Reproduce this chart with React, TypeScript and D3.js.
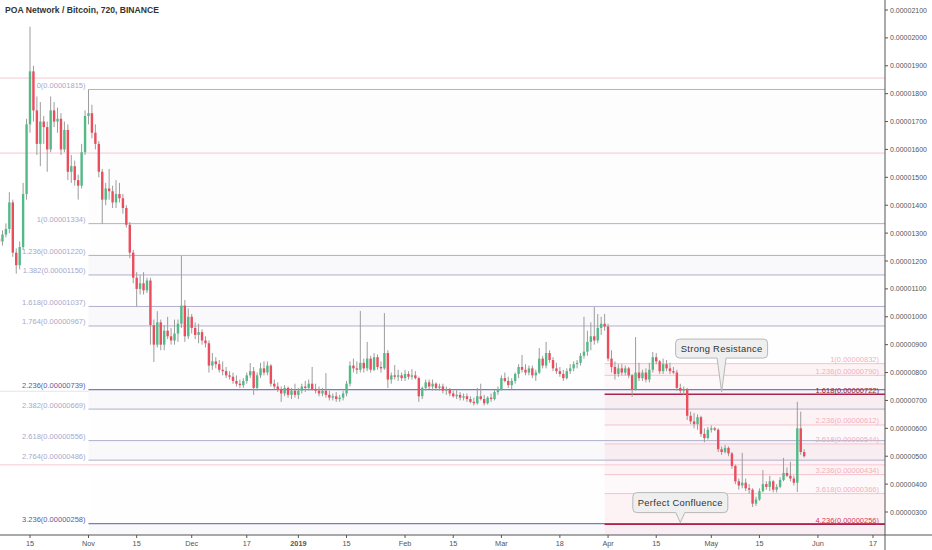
import React from "react";
import * as d3 from "d3";

const W = 932;
const H = 550;
const PLOT_RIGHT = 885;
const AXIS_Y = 535;

const title = "POA Network / Bitcoin, 720, BINANCE";
const startDate = new Date(2018, 9, 6);

// daily OHLC in units of 1e-8 BTC
const candles: [number, number, number, number][] = [
  [1280,1300,1260,1270],[1270,1310,1255,1295],[1295,1335,1285,1315],[1315,1447,1300,1410],[1410,1420,1215,1230],
  [1230,1245,1155,1185],[1185,1270,1170,1250],[1250,1480,1240,1440],[1440,1710,1420,1690],[1690,2040,1660,1880],
  [1880,1900,1700,1740],[1740,1790,1580,1620],[1620,1770,1540,1700],[1700,1720,1620,1680],[1680,1700,1520,1600],
  [1600,1790,1590,1740],[1740,1770,1680,1700],[1700,1750,1660,1710],[1710,1730,1580,1600],[1600,1700,1590,1670],
  [1670,1690,1490,1520],[1520,1580,1480,1540],[1540,1560,1470,1490],[1490,1510,1420,1470],[1470,1620,1460,1590],
  [1590,1740,1580,1720],[1720,1815,1690,1730],[1730,1760,1640,1660],[1660,1690,1600,1620],[1620,1630,1500,1520],
  [1520,1530,1334,1420],[1420,1480,1400,1460],[1460,1530,1420,1450],[1450,1470,1390,1410],[1410,1490,1390,1440],
  [1440,1480,1410,1425],[1425,1440,1370,1390],[1390,1400,1320,1330],[1330,1340,1210,1230],[1230,1240,1120,1140],
  [1140,1160,1037,1100],[1100,1150,1080,1120],[1120,1160,1080,1095],[1095,1140,1085,1130],[1130,1140,900,970],
  [970,990,838,900],[900,1020,890,980],[980,990,880,900],[900,970,880,950],[950,1000,920,930],
  [930,960,900,915],[915,990,900,940],[940,990,910,975],[975,1218,960,1040],[1040,1060,910,930],
  [930,1030,920,1000],[1000,1010,940,960],[960,980,920,935],[935,975,905,945],[945,955,900,915],
  [915,930,890,905],[905,915,800,825],[825,870,810,840],[840,855,815,830],[830,845,800,810],
  [810,840,790,805],[805,820,780,790],[790,805,775,785],[785,800,760,770],[770,790,750,760],
  [760,775,745,755],[755,780,745,770],[770,800,760,790],[790,834,780,805],[805,820,720,745],
  [745,800,735,790],[790,835,780,815],[815,840,790,800],[800,840,790,825],[825,830,750,760],
  [760,775,740,750],[750,765,730,740],[740,750,695,725],[725,755,715,745],[745,750,710,720],
  [720,745,705,735],[735,760,710,720],[720,745,705,735],[735,760,725,750],[750,770,730,745],
  [745,775,735,760],[760,820,735,740],[740,760,725,735],[735,750,715,725],[725,745,715,735],
  [735,798,710,720],[720,735,700,710],[710,725,700,715],[715,730,695,705],[705,720,695,710],
  [710,735,700,725],[725,770,715,760],[760,840,750,825],[825,850,800,815],[815,840,795,810],
  [810,1021,800,835],[835,850,800,815],[815,910,805,850],[850,860,800,810],[810,870,805,855],
  [855,865,810,820],[820,840,800,815],[815,1013,810,870],[870,880,745,775],[775,800,760,790],
  [790,827,775,785],[785,810,770,790],[790,800,770,780],[780,810,770,795],[795,805,775,785],
  [785,812,775,790],[790,805,775,780],[780,785,695,715],[715,750,705,745],[745,775,735,765],
  [765,775,740,750],[750,775,735,760],[760,765,735,745],[745,760,735,750],[750,760,725,735],
  [735,750,720,740],[740,745,715,725],[725,735,710,715],[715,740,705,720],[720,730,700,710],
  [710,725,700,715],[715,725,695,705],[705,715,690,695],[695,710,682,690],[690,745,685,715],
  [715,760,700,705],[705,720,682,690],[690,715,685,710],[710,725,695,705],[705,740,700,730],
  [730,750,720,740],[740,790,735,780],[780,800,765,770],[770,785,745,755],[755,780,740,770],
  [770,800,760,795],[795,830,780,820],[820,863,800,810],[810,830,790,800],[800,825,790,815],
  [815,825,780,790],[790,810,770,800],[800,888,795,850],[850,860,815,825],[825,910,815,870],
  [870,880,835,845],[845,855,805,815],[815,835,795,805],[805,820,785,795],[795,810,770,780],
  [780,815,775,805],[805,830,795,815],[815,840,805,830],[830,845,815,835],[835,870,825,860],
  [860,1000,850,875],[875,950,860,910],[910,980,880,930],[930,1035,900,915],[915,1010,905,960],
  [960,1000,935,975],[975,1010,950,965],[965,975,840,850],[850,880,800,820],[820,840,775,795],
  [795,830,785,815],[815,830,790,800],[800,825,790,815],[815,820,780,790],[790,795,713,740],
  [740,927,735,800],[800,835,770,780],[780,810,770,800],[800,815,765,775],[775,835,765,810],
  [810,874,800,855],[855,870,830,840],[840,845,795,805],[805,850,795,830],[830,845,805,815],
  [815,835,795,805],[805,820,795,800],[800,810,735,745],[745,760,725,735],[735,750,720,740],
  [740,745,630,645],[645,660,615,625],[625,655,600,615],[615,650,595,640],[640,645,570,580],
  [580,600,550,565],[565,605,560,595],[595,610,585,600],[600,605,590,595],[595,600,515,525],
  [525,535,505,515],[515,540,510,530],[530,535,500,510],[510,515,455,465],[465,470,400,410],
  [410,420,380,395],[395,512,385,405],[405,420,375,385],[385,400,365,380],[380,385,318,330],
  [330,355,322,345],[345,385,340,375],[375,450,370,400],[400,410,380,390],[390,430,375,410],
  [410,415,370,380],[380,400,370,390],[390,425,385,415],[415,494,410,440],[440,460,425,430],
  [430,480,410,420],[420,430,395,405],[405,695,372,600],[600,660,505,515],[515,525,495,500],
];

const priceTicks = [300,400,500,600,700,800,900,1000,1100,1200,1300,1400,1500,1600,1700,1800,1900,2000,2100];
const xTickDates = ["2018-10-15","2018-11-01","2018-11-15","2018-12-01","2018-12-17","2019-01-01","2019-01-15","2019-02-01","2019-02-15","2019-03-01","2019-03-18","2019-04-01","2019-04-15","2019-05-01","2019-05-15","2019-06-01","2019-06-17"];
const xTickLabels = ["15","Nov","15","Dec","17","2019","15","Feb","15","Mar","18","Apr","15","May","15","Jun","17"];

const leftFibRatios = ["0","1","1.236","1.382","1.618","1.764","2.236","2.382","2.618","2.764","3.236"];
const leftFibPrices = [1815,1334,1220,1150,1037,967,739,669,556,486,258];
const leftFibStart = "2018-11-01";
const leftFibStrong = ["2.236","3.236"];

const rightFibRatios = ["1","1.236","1.618","2.236","2.618","3.236","3.618","4.236"];
const rightFibPrices = [832,790,722,612,544,434,366,256];
const rightFibStart = "2019-03-31";
const rightFibStrong = ["1.618","4.236"];

const guideLinePrices = [1856,1587,469];

const annotationTexts = ["Strong Resistance","Perfect Confluence"];
const annotationTipDates = ["2019-05-04","2019-04-22"];
const annotationTipPrices = [730,262];

const parseDate = (s: string) => {
  const [y, m, d] = s.split("-").map(Number);
  return new Date(y, m - 1, d);
};

const FONT = "'Liberation Sans', Arial, sans-serif";

function calloutPath(cx: number, tipX: number, tipY: number, w: number, h: number, gap: number, r: number) {
  const x0 = cx - w / 2, x1 = cx + w / 2;
  const y1 = tipY - gap, y0 = y1 - h;
  const b0 = tipX - 4.5, b1 = tipX + 4.5;
  return `M${x0 + r},${y0} H${x1 - r} Q${x1},${y0} ${x1},${y0 + r} V${y1 - r} Q${x1},${y1} ${x1 - r},${y1} H${b1} L${tipX},${tipY} L${b0},${y1} H${x0 + r} Q${x0},${y1} ${x0},${y1 - r} V${y0 + r} Q${x0},${y0} ${x0 + r},${y0} Z`;
}

export default function App() {
  const x = d3.scaleTime().domain([new Date(2018, 9, 15), new Date(2019, 5, 17)]).range([30, 873]);
  const y = d3.scaleLinear().domain([300, 2100]).range([512, 10]);
  const fmt = (p: number) => (p / 1e8).toFixed(8);

  const lx0 = x(parseDate(leftFibStart));
  const rx0 = x(parseDate(rightFibStart));

  const bodyW = 2.4;

  return (
    <svg width={W} height={H} style={{ position: "absolute", left: 0, top: 0, background: "#fff" }} fontFamily={FONT}>
      <rect x={0} y={0} width={W} height={H} fill="#fff" />

      {/* left fib bands */}
      {leftFibPrices.slice(0, -1).map((p, k) => {
        const yt = y(p), yb = y(leftFibPrices[k + 1]);
        let op = 0.012;
        if (k === 0) op = 0.02;
        else if (k % 2 === 0) op = 0.05;
        return <rect key={"lb" + k} x={lx0} y={yt} width={PLOT_RIGHT - lx0} height={yb - yt} fill={k % 2 === 0 && k > 0 ? "#8a8aa8" : "#8080c8"} opacity={op} />;
      })}
      <rect x={lx0} y={y(leftFibPrices[leftFibPrices.length - 1])} width={PLOT_RIGHT - lx0} height={AXIS_Y - y(leftFibPrices[leftFibPrices.length - 1])} fill="#8080c8" opacity={0.05} />

      {/* right fib bands */}
      {rightFibPrices.slice(0, -1).map((p, k) => {
        const yt = y(p), yb = y(rightFibPrices[k + 1]);
        return <rect key={"rb" + k} x={rx0} y={yt} width={PLOT_RIGHT - rx0} height={yb - yt} fill="#f48fa8" opacity={k % 2 === 0 ? 0.1 : 0.055} />;
      })}
      <rect x={rx0} y={y(rightFibPrices[rightFibPrices.length - 1])} width={PLOT_RIGHT - rx0} height={AXIS_Y - y(rightFibPrices[rightFibPrices.length - 1])} fill="#f48fa8" opacity={0.1} />

      {/* guide lines */}
      {guideLinePrices.map((p, k) => (
        <line key={"g" + k} x1={0} x2={PLOT_RIGHT} y1={y(p)} y2={y(p)} stroke="#f6c9d1" strokeWidth={1} />
      ))}
      <line x1={0} x2={lx0} y1={y(733)} y2={y(733)} stroke="#e4e4ea" strokeWidth={1} />

      {/* left fib lines */}
      {leftFibPrices.map((p, k) => {
        const strong = leftFibStrong.includes(leftFibRatios[k]);
        return <line key={"ll" + k} x1={lx0} x2={PLOT_RIGHT} y1={y(p)} y2={y(p)} stroke={strong ? "#7a7ac2" : "#b0b0cc"} strokeWidth={strong ? 1.3 : 1} />;
      })}
      {/* right fib lines */}
      {rightFibPrices.map((p, k) => {
        const strong = rightFibStrong.includes(rightFibRatios[k]);
        return <line key={"rl" + k} x1={rx0} x2={PLOT_RIGHT} y1={y(p)} y2={y(p)} stroke={strong ? "#a8244a" : "#f5c3cc"} strokeWidth={strong ? 1.4 : 1} />;
      })}

      {/* candles */}
      {candles.map(([o, h, l, c], i) => {
        const d = new Date(startDate.getFullYear(), startDate.getMonth(), startDate.getDate() + i);
        const cx = x(d);
        const up = c >= o;
        const col = up ? "#53b987" : "#eb4d5c";
        const yTop = y(Math.max(o, c));
        const yBot = y(Math.min(o, c));
        return (
          <g key={"c" + i}>
            <line x1={cx} x2={cx} y1={y(h)} y2={y(l)} stroke="#9c9c9c" strokeWidth={1} />
            <rect x={cx - bodyW / 2} y={yTop} width={bodyW} height={Math.max(1, yBot - yTop)} fill={col} />
          </g>
        );
      })}

      {/* left fib labels */}
      {leftFibPrices.map((p, k) => {
        const strong = leftFibStrong.includes(leftFibRatios[k]);
        return (
          <text key={"lt" + k} x={lx0 - 3} y={y(p) - 1.5} textAnchor="end" fontSize={7.5} fill={strong ? "#5a5aa6" : "#a8a8cc"}>
            {`${leftFibRatios[k]}(${fmt(p)})`}
          </text>
        );
      })}
      {/* right fib labels */}
      {rightFibPrices.map((p, k) => {
        const r = rightFibRatios[k];
        const col = r === "1.618" ? "#8e1d3c" : r === "4.236" ? "#d63a55" : "#f2b0bd";
        return (
          <text key={"rt" + k} x={879} y={y(p) - 1.5} textAnchor="end" fontSize={7.5} fill={col}>
            {`${r}(${fmt(p)})`}
          </text>
        );
      })}

      {/* annotations */}
      {annotationTexts.map((t, k) => {
        const tx = x(parseDate(annotationTipDates[k]));
        const ty = y(annotationTipPrices[k]);
        const w = k === 0 ? 92 : 95;
        const h = k === 0 ? 19 : 20;
        const gap = k === 0 ? 34 : 10;
        const cx = tx;
        const yc = ty - gap - h / 2;
        return (
          <g key={"a" + k}>
            <path d={calloutPath(cx, tx, ty, w, h, gap, 4)} fill="#efefef" stroke="#b8b8b8" strokeWidth={1} />
            <text x={cx} y={yc} textAnchor="middle" dominantBaseline="central" fontSize={9.4} fill="#333" letterSpacing={0.3}>{t}</text>
          </g>
        );
      })}

      {/* axes */}
      <line x1={0} x2={W} y1={AXIS_Y} y2={AXIS_Y} stroke="#555" strokeWidth={1} />
      <line x1={PLOT_RIGHT} x2={PLOT_RIGHT} y1={0} y2={H} stroke="#555" strokeWidth={1} />
      {priceTicks.map((p) => (
        <g key={"yt" + p}>
          <line x1={PLOT_RIGHT} x2={PLOT_RIGHT + 3} y1={y(p)} y2={y(p)} stroke="#555" />
          <text x={PLOT_RIGHT + 5} y={y(p)} dominantBaseline="central" fontSize={7} fill="#555">{fmt(p)}</text>
        </g>
      ))}
      {xTickDates.map((s, k) => {
        const xx = x(parseDate(s));
        return (
          <g key={"xt" + k}>
            <line x1={xx} x2={xx} y1={AXIS_Y} y2={AXIS_Y + 3} stroke="#555" />
            <text x={xx} y={546} textAnchor="middle" fontSize={7.3} fill="#555" fontWeight={xTickLabels[k] === "2019" ? 700 : 400}>{xTickLabels[k]}</text>
          </g>
        );
      })}

      <text x={5} y={12.5} fontSize={8.6} fontWeight={600} fill="#333">{title}</text>
    </svg>
  );
}
